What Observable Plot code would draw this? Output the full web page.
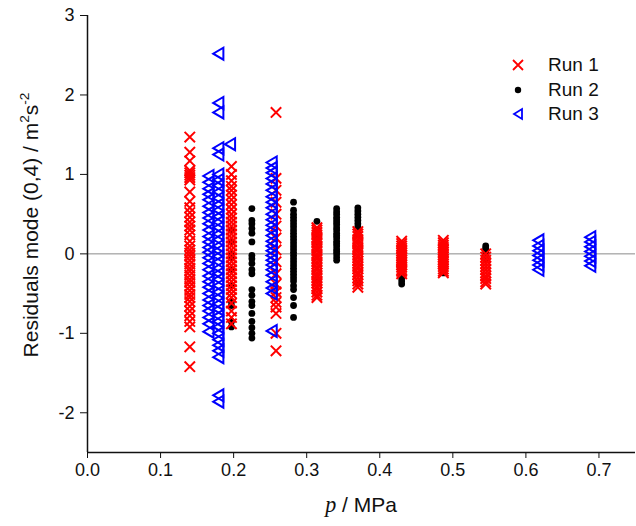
<!DOCTYPE html>
<html><head><meta charset="utf-8">
<script src="https://cdn.jsdelivr.net/npm/d3@7"></script>
<script src="https://cdn.jsdelivr.net/npm/@observablehq/plot@0.6"></script>
<style>
body{margin:0;background:#fff;}
#wrap{position:relative;width:636px;height:526px;font-family:"Liberation Sans",Arial,sans-serif;color:#111;}
#wrap svg{display:block;}
.ytitle{position:absolute;left:30px;top:225px;transform:translate(-50%,-50%) rotate(-90deg);white-space:nowrap;font-size:21px;line-height:1;}
.ytitle sup{font-size:0.65em;vertical-align:0.6em;line-height:0;}
.xtitle{position:absolute;left:361px;top:505px;transform:translate(-50%,-50%);white-space:nowrap;font-size:21px;line-height:1;}
.xtitle i{font-family:"Liberation Serif","Times New Roman",serif;font-size:1.05em;}
.lrow{position:absolute;left:508px;height:22px;display:flex;align-items:center;font-size:19px;}
.lrow svg{width:20px;height:20px;margin-right:20px;}
</style></head><body><div id="wrap"></div>
<script>
// ---- data (pressure p / MPa, residuals / m^2 s^-2) ----
const seriesNames = ["Run 1", "Run 2", "Run 3"];
const xTicks = [0, 0.1, 0.2, 0.3, 0.4, 0.5, 0.6, 0.7];
const yTicks = [-2, -1, 0, 1, 2, 3];

// Run 1 (red crosses)
const run1Pressures = [0.140, 0.197, 0.258, 0.314, 0.370, 0.430, 0.487, 0.545];
const run1Residuals = [
  [1.47, 1.28, 1.17, 1.05, 1.02, 0.99, 0.96, 0.93, 0.78, 0.66, 0.58, 0.52, 0.46, 0.40, 0.35, 0.30, 0.24, 0.16, 0.10, 0.05, 0.01, -0.03, -0.08, -0.13, -0.18, -0.22, -0.27, -0.32, -0.36, -0.41, -0.46, -0.51, -0.55, -0.60, -0.66, -0.72, -0.78, -0.85, -0.92, -1.17, -1.42],
  [1.10, 1.00, 0.92, 0.85, 0.80, 0.74, 0.68, 0.62, 0.56, 0.50, 0.45, 0.40, 0.35, 0.30, 0.25, 0.20, 0.15, 0.10, 0.05, 0.00, -0.05, -0.10, -0.15, -0.20, -0.25, -0.30, -0.35, -0.40, -0.45, -0.50, -0.55, -0.62, -0.72, -0.80, -0.88],
  [1.78, 0.95, 0.80, 0.65, 0.50, 0.35, 0.20, 0.05, -0.10, -0.25, -0.38, -0.48, -0.55, -0.61, -0.67, -0.75, -1.00, -1.22],
  [0.33, 0.30, 0.27, 0.24, 0.20, 0.17, 0.14, 0.10, 0.07, 0.04, 0.00, -0.03, -0.06, -0.10, -0.13, -0.17, -0.20, -0.24, -0.27, -0.30, -0.34, -0.37, -0.41, -0.44, -0.48, -0.52, -0.55],
  [0.28, 0.25, 0.22, 0.18, 0.15, 0.12, 0.08, 0.05, 0.02, -0.02, -0.05, -0.09, -0.12, -0.16, -0.19, -0.23, -0.26, -0.30, -0.34, -0.38, -0.42],
  [0.16, 0.13, 0.10, 0.07, 0.04, 0.01, -0.02, -0.05, -0.08, -0.11, -0.14, -0.17, -0.20, -0.22, -0.25],
  [0.17, 0.14, 0.11, 0.08, 0.05, 0.02, -0.01, -0.04, -0.07, -0.10, -0.13, -0.16, -0.19, -0.22, -0.24],
  [0.00, -0.04, -0.08, -0.12, -0.16, -0.20, -0.24, -0.28, -0.31, -0.35, -0.38]
];

// Run 2 (black dots)
const run2Pressures = [0.197, 0.225, 0.282, 0.314, 0.341, 0.370, 0.430, 0.487, 0.545];
const run2Residuals = [
  [0.30, 0.15, 0.00, -0.05, -0.20, -0.40, -0.60, -0.65, -0.85, -0.92],
  [0.57, 0.42, 0.38, 0.32, 0.26, 0.15, -0.02, -0.06, -0.12, -0.20, -0.25, -0.45, -0.52, -0.60, -0.65, -0.75, -0.85, -0.93, -1.00, -1.06],
  [0.65, 0.55, 0.50, 0.46, 0.42, 0.38, 0.34, 0.30, 0.26, 0.22, 0.18, 0.14, 0.10, 0.06, 0.02, -0.02, -0.06, -0.10, -0.14, -0.18, -0.22, -0.26, -0.30, -0.34, -0.40, -0.45, -0.55, -0.65, -0.80],
  [0.41, 0.30, 0.20, 0.15, -0.33],
  [0.57, 0.53, 0.50, 0.46, 0.43, 0.40, 0.37, 0.33, 0.30, 0.26, 0.23, 0.20, 0.16, 0.13, 0.10, 0.06, 0.03, 0.00, -0.04, -0.08],
  [0.58, 0.54, 0.50, 0.46, 0.42, 0.38, 0.34, 0.30, 0.25, -0.37],
  [-0.12, -0.20, -0.26, -0.30, -0.34, -0.38],
  [-0.16, -0.20, -0.24],
  [0.10, 0.07, 0.04, 0.00, -0.03, -0.06]
];

// Run 3 (blue left triangles)
const run3Pressures = [0.1655, 0.179, 0.195, 0.252, 0.617, 0.688];
const run3Residuals = [
  [0.98, 0.90, 0.82, 0.75, 0.68, 0.60, 0.52, 0.45, 0.38, 0.30, 0.22, 0.15, 0.08, 0.02, -0.05, -0.12, -0.20, -0.28, -0.35, -0.42, -0.50, -0.58, -0.65, -0.72, -0.80, -0.88, -0.98],
  [2.52, 1.90, 1.78, 1.33, 1.25, 1.00, 0.93, 0.86, 0.78, 0.70, 0.62, 0.55, 0.47, 0.40, 0.33, 0.25, 0.18, 0.10, 0.04, -0.03, -0.10, -0.18, -0.25, -0.32, -0.40, -0.48, -0.55, -0.63, -0.70, -0.78, -0.85, -0.92, -1.00, -1.08, -1.15, -1.22, -1.30, -1.78, -1.86],
  [1.38],
  [1.15, 1.08, 1.02, 0.95, 0.88, 0.80, 0.72, 0.65, 0.58, 0.50, 0.43, 0.36, 0.30, 0.23, 0.16, 0.10, 0.04, -0.02, -0.08, -0.14, -0.20, -0.27, -0.35, -0.43, -0.50, -0.97],
  [0.17, 0.10, 0.04, -0.02, -0.08, -0.14, -0.20],
  [0.21, 0.15, 0.09, 0.03, -0.03, -0.09, -0.15]
];

const seriesColors = ["#ff0000", "#000000", "#0000ff"];

// ---- build tables ----
function flatten(ps, vs) {
  const out = [];
  ps.forEach((p, i) => vs[i].forEach(v => out.push({p, v})));
  return out;
}
const run1 = flatten(run1Pressures, run1Residuals);
const run2 = flatten(run2Pressures, run2Residuals);
const run3 = flatten(run3Pressures, run3Residuals);

// custom symbols
const symTimes = {draw(ctx, size) {
  const r = Math.sqrt(size / Math.PI);
  ctx.moveTo(-r, -r); ctx.lineTo(r, r);
  ctx.moveTo(-r, r); ctx.lineTo(r, -r);
}};
const symTriLeft = {draw(ctx, size) {
  const r = Math.sqrt(size / Math.PI);
  const w = r * 0.85;
  ctx.moveTo(w, -r); ctx.lineTo(w, r); ctx.lineTo(-w, 0); ctx.closePath();
}};

const chart = Plot.plot({
  width: 636, height: 526,
  marginLeft: 87, marginRight: 1, marginTop: 15, marginBottom: 74,
  style: {fontFamily: "'Liberation Sans', Arial, sans-serif", fontSize: "18px", color: "#111", background: "#fff"},
  x: {domain: [0, 0.75], ticks: xTicks, tickFormat: d => d.toFixed(1), tickSize: 6, tickPadding: 5, label: null},
  y: {domain: [-2.5, 3], ticks: yTicks, tickFormat: d => String(d), tickSize: 7, tickPadding: 6, label: null},
  marks: [
    Plot.ruleY([0], {stroke: "#8a8a8a", strokeWidth: 1}),
    Plot.dot(run2, {x: "p", y: "v", r: 3.4, fill: seriesColors[1], stroke: "none"}),
    Plot.dot(run1, {x: "p", y: "v", r: 5.2, symbol: symTimes, stroke: seriesColors[0], strokeWidth: 2, fill: "none"}),
    Plot.dot(run3, {x: "p", y: "v", r: 6, symbol: symTriLeft, stroke: seriesColors[2], strokeWidth: 2, fill: "none"}),
    Plot.ruleX([0], {stroke: "#111", strokeWidth: 1.5}),
    Plot.ruleY([-2.5], {stroke: "#111", strokeWidth: 1.5})
  ]
});

const wrap = document.getElementById("wrap");
wrap.appendChild(chart);

// axis titles
const yt = document.createElement("div");
yt.className = "ytitle";
yt.innerHTML = "Residuals mode (0,4) / m<sup>2</sup>s<sup>-2</sup>";
wrap.appendChild(yt);
const xt = document.createElement("div");
xt.className = "xtitle";
xt.innerHTML = "<i>p</i> / MPa";
wrap.appendChild(xt);

// legend
const legendShapes = [
  '<path d="M5,5L15,15M5,15L15,5" stroke="#ff0000" stroke-width="1.8" fill="none"/>',
  '<circle cx="10" cy="10" r="3.2" fill="#000"/>',
  '<path d="M14,5L14,15L6,10Z" stroke="#0000ff" stroke-width="1.8" fill="none"/>'
];
seriesNames.forEach((name, i) => {
  const row = document.createElement("div");
  row.className = "lrow";
  row.style.top = (54 + i * 24.5) + "px";
  row.innerHTML = `<svg viewBox="0 0 20 20">${legendShapes[i]}</svg><span>${name}</span>`;
  wrap.appendChild(row);
});
</script>
</body></html>
